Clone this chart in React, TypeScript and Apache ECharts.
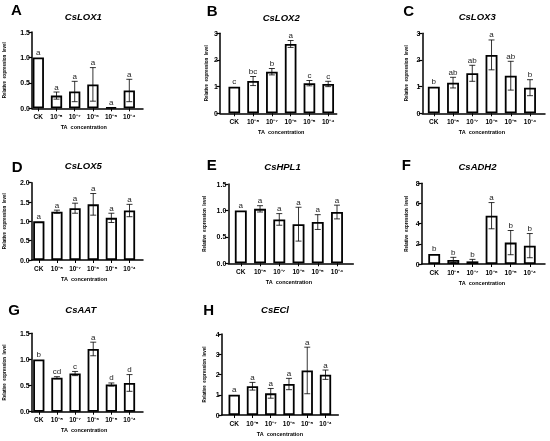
import React, { useEffect, useRef } from 'react';
import * as echarts from 'echarts';

const categories = ['CK', '10⁻⁸', '10⁻⁷', '10⁻⁶', '10⁻⁵', '10⁻⁴'];
const genes = ['CsLOX1', 'CsLOX2', 'CsLOX3', 'CsLOX5', 'CsHPL1', 'CsADH2', 'CsAAT', 'CsECl'];
const panelLetters = ['A', 'B', 'C', 'D', 'E', 'F', 'G', 'H'];

const lox1Mean = [1.0, 0.25, 0.33, 0.47, 0.02, 0.35];
const lox1Sd = [0, 0.07, 0.2, 0.33, 0, 0.22];
const lox1Sig = ['a', 'a', 'a', 'a', 'a', 'a'];

const lox2Mean = [1.0, 1.21, 1.56, 2.6, 1.13, 1.1];
const lox2Sd = [0, 0.17, 0.12, 0.13, 0.1, 0.1];
const lox2Sig = ['c', 'bc', 'b', 'a', 'c', 'c'];

const lox3Mean = [1.0, 1.15, 1.5, 2.19, 1.41, 0.96];
const lox3Sd = [0, 0.2, 0.3, 0.56, 0.54, 0.3];
const lox3Sig = ['b', 'ab', 'ab', 'a', 'ab', 'b'];

const lox5Mean = [1.0, 1.25, 1.34, 1.44, 1.09, 1.28];
const lox5Sd = [0, 0.04, 0.13, 0.28, 0.12, 0.16];
const lox5Sig = ['a', 'a', 'a', 'a', 'a', 'a'];

const hpl1Mean = [1.0, 1.03, 0.83, 0.74, 0.78, 0.97];
const hpl1Sd = [0, 0.06, 0.11, 0.32, 0.14, 0.13];
const hpl1Sig = ['a', 'a', 'a', 'a', 'a', 'a'];

const adh2Mean = [1.0, 0.4, 0.26, 4.79, 2.12, 1.82];
const adh2Sd = [0, 0.26, 0.2, 1.3, 1.2, 1.2];
const adh2Sig = ['b', 'b', 'b', 'a', 'b', 'b'];

const aatMean = [1.0, 0.65, 0.73, 1.2, 0.52, 0.55];
const aatSd = [0, 0.02, 0.04, 0.13, 0.03, 0.16];
const aatSig = ['b', 'cd', 'c', 'a', 'd', 'd'];

const eclMean = [1.0, 1.42, 1.07, 1.53, 2.2, 1.99];
const eclSd = [0, 0.19, 0.24, 0.28, 1.15, 0.23];
const eclSig = ['a', 'a', 'a', 'a', 'a', 'a'];

const yMax = [1.5, 3, 3, 2, 1.5, 8, 1.5, 4];
const yStep = [0.5, 1, 1, 0.5, 0.5, 2, 0.5, 1];
const yDecimals = [1, 0, 0, 1, 1, 0, 1, 0];

const means = [lox1Mean, lox2Mean, lox3Mean, lox5Mean, hpl1Mean, adh2Mean, aatMean, eclMean];
const sds = [lox1Sd, lox2Sd, lox3Sd, lox5Sd, hpl1Sd, adh2Sd, aatSd, eclSd];
const sigs = [lox1Sig, lox2Sig, lox3Sig, lox5Sig, hpl1Sig, adh2Sig, aatSig, eclSig];

// layout (pixels)
const layouts = [
  { axisX: 32, top: 32, zero: 108.3, c0: 38.3, c5: 129.3, xEnd: 143, titleX: 83.3, titleY: 16.7, letterX: 11, letterY: 9.5, nameGap: 25 },
  { axisX: 220, top: 33.3, zero: 113.3, c0: 234.3, c5: 328.2, xEnd: 336.7, titleX: 281.2, titleY: 17.3, letterX: 206.7, letterY: 10.5, nameGap: 11.5 },
  { axisX: 422.3, top: 33.3, zero: 113.3, c0: 433.8, c5: 530, xEnd: 545, titleX: 477.2, titleY: 16.7, letterX: 403.3, letterY: 10.5, nameGap: 13 },
  { axisX: 31.7, top: 182.7, zero: 260, c0: 38.8, c5: 129.5, xEnd: 143, titleX: 83.3, titleY: 165.7, letterX: 11.7, letterY: 166, nameGap: 24.5 },
  { axisX: 228.3, top: 184, zero: 263.3, c0: 240.8, c5: 337, xEnd: 353.3, titleX: 282.5, titleY: 166.7, letterX: 206.7, letterY: 164, nameGap: 21 },
  { axisX: 421.7, top: 183.3, zero: 264, c0: 434.2, c5: 529.8, xEnd: 545, titleX: 477.5, titleY: 166.5, letterX: 401.7, letterY: 164.3, nameGap: 12.8 },
  { axisX: 31.7, top: 333.3, zero: 411.7, c0: 38.8, c5: 129.5, xEnd: 143, titleX: 80.8, titleY: 309, letterX: 8.3, letterY: 309.2, nameGap: 24.5 },
  { axisX: 221.7, top: 334, zero: 415, c0: 234.2, c5: 325.5, xEnd: 338.3, titleX: 275, titleY: 309, letterX: 203.3, letterY: 309.5, nameGap: 14.5 },
];

const FONT = '"Liberation Sans", Arial, Helvetica, sans-serif';
const INK = '#000';
const SIG_INK = '#222';

function buildOption() {
  const grid: any[] = [];
  const xAxis: any[] = [];
  const yAxis: any[] = [];
  const series: any[] = [];
  const graphic: any[] = [];

  layouts.forEach((L, i) => {
    const band = (L.c5 - L.c0) / 5;
    const h = L.zero - L.top;
    grid.push({ left: L.c0 - band / 2, top: L.top, width: band * 6, height: h });
    grid.push({ left: L.axisX, top: L.top, width: L.xEnd - L.axisX, height: h });
    const gb = 2 * i;
    const ga = 2 * i + 1;

    xAxis.push({
      type: 'category',
      gridIndex: gb,
      data: categories,
      axisLine: { show: false },
      axisTick: { show: true, alignWithLabel: true, length: 3, lineStyle: { color: INK, width: 1 } },
      axisLabel: { interval: 0, fontSize: 6.5, fontWeight: 'bold', color: INK, margin: 4.5, fontFamily: FONT },
      splitLine: { show: false },
      name: 'TA\u00a0 concentration',
      nameLocation: 'middle',
      nameGap: 15.5,
      nameTextStyle: { fontSize: 5.5, fontWeight: 'bold', color: INK, fontFamily: FONT },
    });
    yAxis.push({ type: 'value', gridIndex: gb, min: 0, max: yMax[i], show: false });

    xAxis.push({
      type: 'value',
      gridIndex: ga,
      min: 0,
      max: 1,
      axisLine: { show: true, lineStyle: { color: INK, width: 1.5 } },
      axisTick: { show: false },
      axisLabel: { show: false },
      splitLine: { show: false },
    });
    yAxis.push({
      type: 'value',
      gridIndex: ga,
      min: 0,
      max: yMax[i],
      interval: yStep[i],
      axisLine: { show: true, lineStyle: { color: INK, width: 1.5 } },
      axisTick: { show: true, length: 3.5, lineStyle: { color: INK, width: 1.2 } },
      axisLabel: {
        fontSize: 7,
        fontWeight: 'bold',
        color: INK,
        margin: 2,
        fontFamily: FONT,
        formatter: (v: number) => v.toFixed(yDecimals[i]),
      },
      splitLine: { show: false },
      name: 'Relative  expression  level',
      nameLocation: 'middle',
      nameRotate: 90,
      nameGap: L.nameGap,
      nameTextStyle: { fontSize: 4.5, fontWeight: 'bold', color: INK, fontFamily: FONT },
    });

    series.push({
      type: 'bar',
      xAxisIndex: gb,
      yAxisIndex: gb,
      data: means[i],
      barWidth: band * 0.62,
      itemStyle: { color: '#fff', borderColor: INK, borderWidth: 1.8 },
      silent: true,
    });

    const sig = sigs[i];
    series.push({
      type: 'custom',
      xAxisIndex: gb,
      yAxisIndex: gb,
      z: 10,
      silent: true,
      color: SIG_INK,
      itemStyle: { color: SIG_INK },
      data: means[i].map((m, j) => [j, m, sds[i][j]]),
      renderItem: (params: any, api: any) => {
        const j = api.value(0);
        const m = api.value(1);
        const s = api.value(2);
        const tp = api.coord([j, m + s]);
        const bp = api.coord([j, m - s]);
        const cap = 3;
        const children: any[] = [];
        if (s > 0) {
          const st = { stroke: INK, lineWidth: 0.8 };
          children.push({ type: 'line', shape: { x1: tp[0], y1: tp[1], x2: bp[0], y2: bp[1] }, style: st });
          children.push({ type: 'line', shape: { x1: tp[0] - cap, y1: tp[1], x2: tp[0] + cap, y2: tp[1] }, style: st });
          children.push({ type: 'line', shape: { x1: bp[0] - cap, y1: bp[1], x2: bp[0] + cap, y2: bp[1] }, style: st });
        }
        children.push({
          type: 'text',
          x: tp[0],
          y: tp[1] - 1,
          style: {
            text: sig[params.dataIndex],
            align: 'center',
            verticalAlign: 'bottom',
            fontSize: 8,
            fontFamily: FONT,
            fill: SIG_INK,
          },
        });
        return { type: 'group', children };
      },
    });

    graphic.push({
      type: 'text',
      x: L.titleX,
      y: L.titleY,
      style: {
        text: genes[i],
        align: 'center',
        verticalAlign: 'middle',
        fontSize: 9.5,
        fontWeight: 'bold',
        fontStyle: 'italic',
        fontFamily: FONT,
        fill: INK,
      },
    });
    graphic.push({
      type: 'text',
      x: L.letterX,
      y: L.letterY,
      style: {
        text: panelLetters[i],
        align: 'left',
        verticalAlign: 'middle',
        fontSize: 15,
        fontWeight: 'bold',
        fontFamily: FONT,
        fill: '#000',
      },
    });
  });

  return {
    animation: false,
    backgroundColor: '#fff',
    grid,
    xAxis,
    yAxis,
    series,
    graphic,
  };
}

export default function App() {
  const ref = useRef<HTMLDivElement>(null);
  useEffect(() => {
    if (!ref.current) return;
    const chart = echarts.init(ref.current, undefined, { renderer: 'svg' });
    chart.setOption(buildOption() as any);
    return () => chart.dispose();
  }, []);
  return (
    <div
      ref={ref}
      style={{ position: 'fixed', left: 0, top: 0, width: 550, height: 441, willChange: 'transform', opacity: 0.999 }}
    />
  );
}
